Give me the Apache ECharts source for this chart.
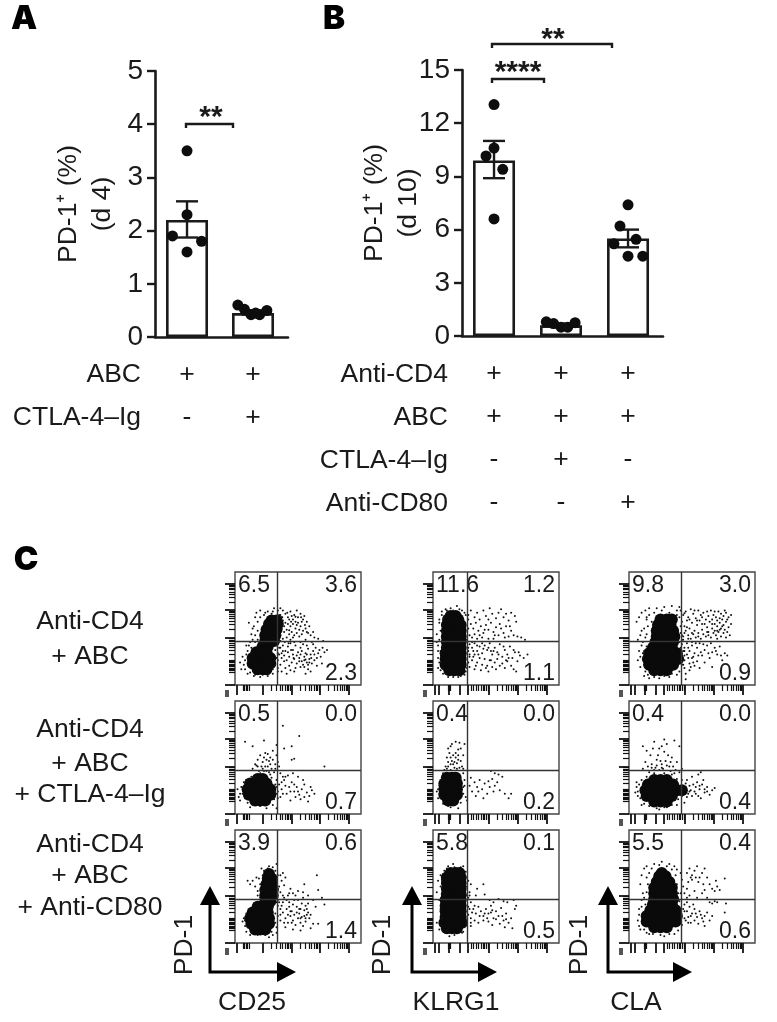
<!DOCTYPE html>
<html><head><meta charset="utf-8">
<style>html,body{margin:0;padding:0;background:#fff}#c{width:777px;height:1022px}</style>
<script src="https://cdn.jsdelivr.net/npm/echarts@6/dist/echarts.min.js"></script>
</head><body><div id="c"></div>
<script>
// ---- Panel A data
const aBars=[[0,2.2],[1,0.45]];
const aErr=[[0,1.87,2.55],[1,0.42,0.5]];
const aDots=[[0,3.5],[0,2.3],[-0.22,1.9],[0.22,1.8],[0,1.6],[0.77,0.6],[0.87,0.52],[0.97,0.42],[1.1,0.42],[1.21,0.5],[1.04,0.45]];
const aSigns=[['+','-'],['+','+']];
const aRows=['ABC','CTLA-4–Ig'];
// ---- Panel B data
const bBars=[[0,9.9],[1,0.6],[2,5.5]];
const bErr=[[0,8.9,11.0],[1,0.5,0.7],[2,5.0,6.0]];
const bDots=[[0,13.05],[0,10.6],[-0.12,10.15],[0.13,9.4],[0,6.6],[0.78,0.8],[0.89,0.7],[1,0.5],[1.1,0.5],[1.21,0.75],[2,7.4],[1.88,6.2],[2.12,5.45],[1.79,5.2],[2,4.5],[2.22,4.5]];
const bSigns=[['+','+','-','-'],['+','+','+','-'],['+','+','-','+']];
const bRows=['Anti-CD4','ABC','CTLA-4–Ig','Anti-CD80'];
// ---- Panel C tick marks (percent of the plot box)
const yMajor=[89.3,66.6,42,0.6];
const yMinor=[88.3,87.1,85.8,84.3,82.3,80.2,77.5,73.4,65.5,64.3,63,61.2,59.2,56.8,53.8,49.7,41.1,39.9,38.8,37.3,35.5,33.7,31.1,27.2,22.2,21,19.8,18.6,17.5,16.3,15.1,13.9,12.7,11.5];
const xMajorCD25=[1.3,22,45,67.6,90];
const xMinorCD25=[6.6,7.6,9,10,11,28.9,32.8,35.6,37.8,39.6,41.1,42.4,43.6,51.8,55.8,58.6,60.8,62.6,64.1,65.4,66.6,74.4,78.4,81.2,83.4,85.2,86.7,88,89.2];
const xMajorOther=[1,4.5,12.5,21,27.5,44.5,67,90];
const xMinorOther=[12,13,14,30,32,34,36,38,39.5,41,42.5,43.5,51,55,58,60,62,63.5,65,66,74,78,81,83,85,86.5,88,89];
// ---- Panel C quadrant gates and percentages
const gateX=[33.3,27.2,41.3];
const gateY=39;
const pct=[['6.5','3.6','2.3'],['11.6','1.2','1.1'],['9.8','3.0','0.9'],['0.5','0.0','0.7'],['0.4','0.0','0.2'],['0.4','0.0','0.4'],['3.9','0.6','1.4'],['5.8','0.1','0.5'],['5.5','0.4','0.6']];
const rowLabels=[['Anti-CD4','+ ABC'],['Anti-CD4','+ ABC','+ CTLA-4–Ig'],['Anti-CD4','+ ABC','+ Anti-CD80']];
const markers=['CD25','KLRG1','CLA'];
// ---- Panel C events: dense cores and scattered events
const core11=[[18,14],[22,14],[25,14],[14,19],[18,19],[22,19],[26,19],[28,19],[14,24],[18,24],[22,24],[26,24],[28,24],[17,29],[21,29],[25,29],[22,34],[26,34],[24,39],[28,39],[31,39],[24,44],[28,44],[32,44],[25,49],[29,49],[33,49],[27,54],[31,54],[34,54],[29,57],[33,57]];
const dots11=[[36,62],[38,66],[40,63],[42,60],[44,65],[46,58],[47,62],[49,66],[50,60],[52,63],[54,58],[55,61],[57,56],[38,57],[40,55],[42,54],[44,52],[46,54],[48,50],[50,55],[52,52],[54,48],[56,50],[37,50],[39,47],[41,49],[43,45],[45,47],[47,44],[49,46],[51,43],[36,44],[38,41],[41,42],[44,40],[53,45],[58,46],[60,44],[63,42],[66,41],[70,39],[62,47],[35,58],[37,54],[43,58],[48,56],[53,56],[45,61],[34,36],[36,33],[38,35],[40,30],[42,34],[44,37],[46,31],[48,35],[50,29],[52,33],[54,36],[56,28],[58,32],[60,27],[62,30],[64,33],[66,28],[68,25],[35,27],[37,24],[39,26],[41,22],[43,25],[45,20],[47,23],[49,19],[51,24],[53,21],[55,25],[57,20],[59,23],[61,19],[63,22],[65,17],[36,18],[40,15],[44,13],[43,17],[48,15],[55,16],[58,14],[38,30],[46,27],[52,27],[57,35],[62,36],[34,22],[34,15],[56,10],[10,30],[7,18],[5,14],[4,20],[9,35],[12,38],[14,50],[11,55],[16,60],[13,45],[17,64],[20,66],[24,64],[29,63],[34,66],[31,68],[36,68],[18,40],[6,25],[10,10],[15,8],[20,7],[26,8],[30,10],[34,12]];
const extra11=[[37.5,60],[39,52],[41.5,64],[43,48.5],[44.5,56],[46,42],[48,60.5],[49,53],[51,49],[52.5,60],[55.5,53],[57,47],[59,52],[35.5,47],[39.5,38],[36,39],[42.5,37],[47,38],[52,38],[56,40],[61,38],[35,33],[37,28],[39,21],[42,29],[44.5,31],[46.5,24],[49,26],[51,21],[53,30],[55,22],[57,27],[59,20],[60.5,24],[63,27],[65,24],[67,31],[69.5,33],[71,29],[73,31],[54,18],[56,22.5],[58,18],[52,16],[47,12],[41,10],[37,12],[60,12],[69,19],[34,28],[11,35],[13,33],[9,27],[8,22],[8,14],[12,11],[16,9],[22,9],[27,10],[30,14],[32,18],[33,24],[32,31],[14,40],[16,44],[18,48],[15,52],[18,56],[20,60],[23,62],[26,65],[30,65],[35,62],[37,60],[16,38],[20,36],[18,35]];
const core12=[[13,13],[17,13],[21,13],[10,18],[14,18],[18,18],[22,18],[10,23],[14,23],[18,23],[22,23],[10,28],[14,28],[18,28],[22,28],[11,33],[15,33],[19,33],[22,33],[11,38],[15,38],[19,38],[22,38],[11,43],[15,43],[19,43],[22,43],[11,48],[15,48],[19,48],[22,48],[11,53],[15,53],[19,53],[22,53],[12,58],[16,58],[20,58],[14,61],[18,61]];
const dots12=[[28,62],[30,66],[33,60],[35,64],[37,58],[40,66],[42,61],[45,68],[47,63],[50,59],[52,64],[54,67],[56,60],[58,63],[60,57],[62,64],[65,61],[66,56],[30,54],[32,50],[34,55],[36,48],[38,52],[40,46],[42,53],[44,49],[46,55],[48,47],[50,51],[52,44],[54,50],[56,46],[58,52],[60,43],[62,48],[64,44],[67,43],[70,42],[73,40],[29,44],[31,42],[35,41],[39,42],[44,41],[48,41],[29,36],[31,33],[33,37],[35,30],[37,34],[39,28],[41,35],[43,31],[45,37],[47,27],[49,33],[51,29],[53,36],[55,25],[57,31],[59,27],[61,34],[63,24],[65,29],[67,21],[69,26],[72,24],[75,27],[29,25],[31,22],[33,27],[35,20],[37,24],[39,18],[41,23],[43,17],[45,22],[47,16],[49,20],[51,23],[53,17],[55,19],[57,15],[59,21],[62,17],[64,14],[66,12],[29,16],[33,14],[38,13],[44,12],[32,30],[46,30],[4,30],[3,45],[5,55],[7,65],[10,67],[14,68],[19,70],[23,66],[26,62],[27,15],[25,9],[20,7],[12,7],[8,10],[4,15],[24,58],[28,30]];
const extra12=[[5,20],[6,30],[5,40],[6,48],[5,58],[7,62],[9,60],[11,66],[16,66],[21,67],[25,64],[28,58],[28,50],[27,40],[28,33],[29,27],[28,20],[26,12],[22,8],[16,7],[10,10],[6,13],[4,24],[4,35],[7,42],[3,38],[33,45],[37,44],[41,49],[44,58],[49,44],[53,54],[57,42],[61,52],[32,25],[36,27],[40,32],[44,33],[48,30],[52,27],[56,34],[60,24],[64,31],[68,29],[34,17],[42,15],[50,14],[58,22],[31,38],[35,35],[39,37],[46,22]];
const core13=[[20,13],[25,13],[30,13],[16,18],[20,18],[25,18],[30,18],[35,18],[15,23],[20,23],[25,23],[30,23],[35,23],[39,23],[16,28],[20,28],[25,28],[30,28],[35,28],[38,28],[19,33],[24,33],[29,33],[34,33],[21,38],[26,38],[31,38],[35,38],[22,43],[27,43],[32,43],[36,43],[22,48],[27,48],[32,48],[35,48],[23,53],[28,53],[33,53],[25,58],[30,58],[34,58]];
const dots13=[[41,66],[43,62],[45,65],[47,60],[49,67],[51,63],[53,59],[55,66],[57,62],[59,64],[61,58],[63,61],[65,66],[67,62],[69,60],[71,65],[73,63],[75,61],[77,64],[79,60],[81,62],[42,56],[44,52],[46,57],[48,50],[50,55],[52,48],[54,53],[56,57],[58,49],[60,54],[62,51],[64,56],[66,50],[68,54],[70,52],[72,55],[73,50],[75,53],[77,56],[79,51],[81,54],[41,46],[43,43],[45,48],[47,44],[49,41],[51,45],[53,42],[55,46],[57,41],[59,45],[61,43],[63,47],[65,42],[67,46],[69,44],[71,47],[73,43],[75,46],[77,42],[80,44],[66,58],[70,57],[74,58],[68,48],[72,49],[76,49],[42,36],[44,33],[46,37],[48,30],[50,35],[52,28],[54,33],[56,37],[58,26],[60,31],[62,35],[64,24],[66,29],[68,33],[70,27],[72,34],[74,22],[76,28],[42,26],[44,22],[46,27],[48,19],[50,24],[52,17],[54,21],[56,15],[44,15],[48,13],[42,18],[45,10],[78,26],[60,20],[66,16],[6,56],[8,60],[10,64],[12,50],[9,44],[11,38],[8,30],[7,22],[9,16],[12,8],[14,60],[13,66],[16,68],[22,68],[28,69],[34,70],[38,66],[40,69],[13,42],[14,34],[16,6],[24,6],[32,7],[38,9],[45,5],[42,40],[40,60]];
const extra13=[[9,25],[10,35],[11,28],[12,18],[13,12],[15,9],[20,7],[28,8],[34,10],[40,12],[43,18],[44,26],[41,33],[14,45],[15,52],[14,58],[16,62],[18,56],[20,64],[26,66],[32,64],[38,62],[41,52],[42,44],[40,38],[10,48],[7,40],[12,30],[44,63.5],[48,58],[52,66],[58,60],[62,65],[68,65],[72,59],[76,66],[78,58],[46,51],[50,46],[54,57],[58,54],[62,47],[66,54],[70,48],[74,52],[78,47],[44,46],[47,41],[55,43],[63,44],[43,40],[50,38],[70,41],[44,30],[47,33],[51,25],[53,37],[57,29],[59,36],[63,28],[65,37],[69,30],[73,26],[47,24],[51,20],[43,30],[55,26],[49,16]];
const core21=[[16,12],[20,12],[24,12],[11,17],[15,17],[20,17],[25,17],[28,17],[10,22],[15,22],[20,22],[25,22],[28,22],[12,27],[16,27],[21,27],[25,27],[18,31],[22,31]];
const dots21=[[14,40],[16,44],[18,48],[20,52],[22,46],[24,54],[26,42],[28,50],[30,56],[32,44],[33,52],[19,38],[23,38],[27,37],[17,43],[21,42],[25,48],[29,40],[31,37],[26,53],[28,44],[23,50],[33,30],[35,26],[37,22],[39,30],[41,18],[43,24],[45,28],[47,20],[49,24],[51,17],[53,22],[55,26],[57,19],[59,16],[61,21],[63,18],[34,20],[36,15],[38,33],[42,34],[46,36],[50,33],[54,30],[44,12],[52,13],[58,11],[40,25],[48,15],[36,36],[33,24],[38,78],[51,69],[23,65],[8,64],[14,60],[39,58],[45,60],[47,49],[45,48],[71,42],[33,61],[34,46],[35,42],[2,22],[3,15],[4,12],[33,5],[25,5],[12,6]];
const extra21=[[6,18],[5,24],[7,28],[8,14],[10,10],[14,8],[20,7],[26,9],[31,13],[33,18],[32,26],[29,32],[9,30],[13,33],[4,18],[34,14],[30,8],[20,36],[24,42],[27,47],[30,48],[22,40],[18,42],[25,38],[28,35],[32,40],[37,28],[40,33],[44,20],[47,26],[50,20],[55,15],[60,24],[38,18]];
const core22=[[12,12],[16,12],[9,17],[13,17],[17,17],[19,17],[9,22],[13,22],[17,22],[19,22],[9,27],[13,27],[17,27],[19,27],[11,32],[15,32],[18,32]];
const dots22=[[10,42],[12,46],[14,50],[16,44],[18,54],[20,48],[22,58],[24,52],[12,58],[15,62],[18,64],[21,63],[11,40],[17,41],[23,42],[13,54],[19,45],[14,60],[22,47],[16,52],[25,62],[9,39],[20,57],[24,40],[29,25],[31,20],[33,28],[35,24],[37,30],[39,22],[41,27],[43,18],[45,24],[47,31],[49,25],[51,28],[53,21],[55,33],[57,18],[46,38],[49,36],[52,35],[60,14],[62,18],[30,32],[34,16],[40,14],[36,20],[44,29],[48,20],[3,20],[4,14],[26,15],[27,12],[25,25],[14,6],[20,5]];
const extra22=[[5,18],[5,25],[6,14],[8,9],[12,7],[17,8],[22,10],[24,18],[25,30],[24,36],[7,32],[8,36],[14,39],[19,40],[4,22],[24,24],[12,42],[15,47],[18,50],[21,41],[14,44],[20,52],[17,46],[11,50]];
const core23=[[20,11],[25,11],[30,11],[14,16],[19,16],[24,16],[29,16],[34,16],[13,21],[18,21],[24,21],[29,21],[34,21],[38,21],[42,21],[15,26],[20,26],[25,26],[30,26],[35,26],[20,30],[25,30],[30,30]];
const dots23=[[11,60],[14,56],[17,52],[20,64],[22,48],[24,58],[26,44],[28,55],[30,62],[32,42],[34,50],[36,65],[38,46],[40,60],[18,44],[21,41],[15,42],[24,39],[27,40],[29,47],[31,52],[33,38],[35,42],[37,39],[23,52],[19,58],[26,60],[13,46],[28,66],[11,40],[42,40],[46,30],[48,25],[50,33],[52,20],[54,28],[56,22],[58,26],[60,19],[62,24],[64,17],[66,21],[68,23],[47,18],[51,26],[55,16],[57,14],[59,30],[55,35],[57,37],[44,22],[46,15],[49,21],[53,24],[6,24],[7,16],[10,8],[24,4],[30,6],[38,8],[44,10],[5,19]];
const extra23=[[7,20],[8,26],[9,14],[12,9],[16,7],[22,5],[28,6],[34,8],[39,13],[42,16],[45,27],[42,30],[38,31],[34,35],[28,36],[20,36],[14,33],[10,30],[6,28],[16,37],[20,39],[22,43],[26,41],[30,43],[25,47],[18,41],[33,46],[36,36],[40,37],[48,20],[50,16],[53,18],[45,24],[56,25],[60,22],[62,20]];
const core31=[[16,12],[20,12],[24,12],[13,17],[17,17],[21,17],[25,17],[27,17],[12,22],[17,22],[21,22],[25,22],[27,22],[14,27],[18,27],[22,27],[26,27],[18,32],[22,32],[26,32],[24,37],[28,37],[24,42],[28,42],[30,42],[24,47],[28,47],[30,47],[25,52],[29,52],[26,57],[29,57],[27,61]];
const dots31=[[18,42],[16,50],[14,55],[12,52],[10,55],[21,66],[24,64],[27,68],[30,67],[33,70],[28,62],[36,60],[38,62],[40,58],[37,55],[35,50],[39,51],[36,45],[33,40],[35,36],[37,33],[39,40],[41,30],[43,36],[45,28],[47,38],[49,32],[51,26],[53,35],[55,24],[57,30],[59,22],[46,44],[50,46],[54,45],[58,42],[62,38],[64,32],[69,40],[71,34],[34,24],[36,20],[38,27],[40,22],[42,18],[44,24],[46,20],[48,16],[50,22],[52,18],[54,15],[56,19],[58,27],[60,13],[62,17],[40,14],[46,12],[52,11],[66,17],[36,30],[42,42],[44,48],[48,42],[55,52],[65,60],[66,47],[43,32],[47,25],[51,30],[55,29],[53,23],[57,25],[34,33],[7,22],[8,15],[9,10],[12,7],[6,19],[30,7],[33,9],[27,5]];
const extra31=[[20,40],[21,46],[20,52],[19,57],[22,60],[23,64],[26,66],[32,64],[34,60],[33,55],[34,48],[33,43],[18,46],[17,58],[22,38],[31,38],[33,36],[8,20],[9,26],[10,14],[13,10],[18,7],[24,7],[29,10],[32,18],[32,26],[30,32],[12,30],[15,35],[33,14],[38,36],[41,38],[44,28],[46,34],[50,38],[52,30],[54,40],[56,33],[36,25],[39,18],[42,25],[45,18],[49,27],[52,22],[56,22],[58,35],[60,25],[38,42],[43,44],[34,38]];
const core32=[[11,13],[15,13],[19,13],[9,18],[13,18],[17,18],[21,18],[23,18],[10,23],[14,23],[18,23],[22,23],[10,28],[14,28],[18,28],[22,28],[10,33],[14,33],[18,33],[22,33],[10,38],[14,38],[18,38],[22,38],[11,43],[15,43],[19,43],[22,43],[11,48],[15,48],[19,48],[22,48],[11,53],[15,53],[19,53],[22,53],[11,58],[15,58],[19,58],[22,58],[14,62],[18,62],[21,62]];
const dots32=[[35,48],[40,52],[34,42],[41,43],[45,38],[48,36],[52,39],[56,37],[59,36],[64,38],[66,33],[65,30],[30,36],[32,30],[34,26],[36,32],[38,28],[40,24],[42,30],[44,26],[46,33],[48,22],[50,28],[52,24],[54,31],[56,20],[58,26],[60,18],[62,22],[30,22],[33,20],[36,18],[40,20],[44,19],[47,16],[30,15],[53,17],[57,14],[63,13],[31,27],[46,27],[28,40],[29,45],[30,52],[4,55],[3,45],[6,60],[12,68],[16,70],[24,68],[26,58],[3,18],[5,12],[13,6],[24,10],[26,20]];
const extra32=[[6,15],[7,22],[6,30],[5,38],[7,44],[6,50],[7,56],[9,64],[11,66],[17,67],[22,67],[26,63],[27,50],[27,42],[28,32],[28,25],[27,16],[23,9],[17,7],[10,9],[29,30],[30,18],[29,42],[28,55],[33,33],[37,24],[41,26],[43,22],[47,29],[50,21],[55,24],[58,21]];
const core33=[[20,14],[25,14],[30,14],[14,19],[19,19],[24,19],[29,19],[34,19],[37,19],[14,24],[19,24],[24,24],[29,24],[34,24],[38,24],[17,29],[22,29],[27,29],[32,29],[37,29],[19,34],[24,34],[29,34],[34,34],[20,39],[25,39],[30,39],[35,39],[20,44],[25,44],[30,44],[34,44],[20,49],[25,49],[30,49],[34,49],[22,54],[27,54],[32,54],[24,59],[29,59],[26,62]];
const dots33=[[46,62],[48,66],[50,60],[52,64],[54,68],[56,58],[58,62],[60,66],[55,54],[50,56],[47,54],[62,58],[64,52],[66,48],[68,46],[70,50],[72,47],[46,48],[44,44],[48,42],[52,46],[58,44],[60,47],[54,40],[62,40],[76,57],[69,55],[44,34],[46,28],[48,32],[50,26],[52,30],[54,23],[56,28],[58,22],[60,24],[62,27],[64,20],[66,24],[45,20],[47,23],[49,18],[52,20],[55,17],[60,15],[64,36],[68,37],[77,35],[76,27],[66,35],[70,36],[9,52],[10,60],[11,44],[12,66],[14,68],[8,30],[7,20],[9,12],[12,40],[13,34],[36,68],[38,65],[41,62],[42,56],[43,50],[32,70],[26,72],[20,70],[16,8],[28,6],[36,8]];
const extra33=[[8,15],[8,25],[10,32],[12,12],[14,9],[19,8],[25,7],[32,8],[39,11],[42,16],[44,22],[43,30],[40,37],[14,45],[15,52],[14,58],[16,62],[18,66],[24,69],[30,68],[34,65],[37,60],[38,52],[39,44],[17,40],[10,38],[41,44],[44,28],[46,36],[47,18],[49,24],[53,26],[57,25],[59,19],[51,34],[49,58],[53,58],[59,52],[46,40]];
const cores=[core11,core12,core13,core21,core22,core23,core31,core32,core33];
const dots=[dots11.concat(extra11),dots12.concat(extra12),dots13.concat(extra13),dots21.concat(extra21),dots22.concat(extra22),dots23.concat(extra23),dots31.concat(extra31),dots32.concat(extra32),dots33.concat(extra33)];

// ---- Layout
const FONT='"Liberation Sans",Arial,sans-serif', INK='#1a1a1a';
const LBL=26.5;
const grid=[],xAxis=[],yAxis=[],series=[],graphic=[];
function text(t,x,y,o={}){graphic.push({type:'text',x,y,rotation:o.rot||0,silent:true,style:{text:t,fill:o.fill||INK,font:(o.weight||'normal')+' '+(o.size||LBL)+'px '+(o.family||FONT),textAlign:o.align||'center',textVerticalAlign:'middle'}});}

function barPanel(box,xMin,xMax,yMax,interval,bars,errs,pts,signs,name,gap){
  const g=grid.length;
  grid.push({left:box[0],top:box[1],width:box[2],height:box[3]});
  xAxis.push({gridIndex:g,type:'value',min:xMin,max:xMax,splitLine:{show:false},
    axisLine:{onZero:false,lineStyle:{color:INK,width:2.6}},axisTick:{show:false},
    axisLabel:{customValues:signs.map((s,i)=>i),formatter:v=>signs[Math.round(v)].join('\n'),fontFamily:FONT,fontSize:LBL,color:INK,lineHeight:43,margin:16,verticalAlign:'top'}});
  yAxis.push({gridIndex:g,type:'value',min:0,max:yMax,interval,splitLine:{show:false},
    axisLine:{onZero:false,lineStyle:{color:INK,width:2.6}},axisTick:{length:8,lineStyle:{color:INK,width:2.4}},
    axisLabel:{fontFamily:FONT,fontSize:28,color:INK,margin:12},
    name,nameLocation:'middle',nameRotate:90,nameGap:gap,nameMoveOverlap:false,nameTextStyle:{fontFamily:FONT,fontSize:LBL,color:INK,lineHeight:34}});
  series.push({type:'bar',xAxisIndex:g,yAxisIndex:g,data:bars,barWidth:42,itemStyle:{color:'#fff',borderColor:INK,borderWidth:2.6},z:2,silent:true});
  series.push({type:'custom',xAxisIndex:g,yAxisIndex:g,data:errs,z:3,silent:true,clip:false,encode:{x:0,y:[1,2]},renderItem(p,api){
    const x=api.value(0),lo=api.coord([x,api.value(1)]),hi=api.coord([x,api.value(2)]),w=11;
    const st={stroke:INK,lineWidth:2.4,fill:'none'};
    return {type:'group',children:[
      {type:'line',shape:{x1:hi[0],y1:hi[1],x2:lo[0],y2:lo[1]},style:st},
      {type:'line',shape:{x1:hi[0]-w,y1:hi[1],x2:hi[0]+w,y2:hi[1]},style:st},
      {type:'line',shape:{x1:lo[0]-w,y1:lo[1],x2:lo[0]+w,y2:lo[1]},style:st}]};
  }});
  series.push({type:'scatter',xAxisIndex:g,yAxisIndex:g,data:pts,symbolSize:11,itemStyle:{color:'#0d0d0d',opacity:1},z:4,silent:true});
}
barPanel([155,71,133,266],-0.485,1.53,5,1,aBars,aErr,aDots,aSigns,'PD-1⁺ (%)\n(d 4)',35);
barPanel([462,70,201,266],-0.478,2.522,15,3,bBars,bErr,bDots,bSigns,'PD-1⁺ (%)\n(d 10)',36);

aRows.forEach((t,i)=>text(t,141,375+i*43,{align:'right'}));
bRows.forEach((t,i)=>text(t,448,375+i*43,{align:'right'}));
const LETTER={size:33,weight:'900',fill:'#000',family:'Inter,"Liberation Sans",sans-serif'};
text('A',24,19,LETTER);
text('B',334,19,LETTER);
text('C',26,560,LETTER);

function bracket(x1,x2,y,d){graphic.push({type:'polyline',silent:true,shape:{points:[[x1,y+d],[x1,y],[x2,y],[x2,y+d]]},style:{stroke:INK,lineWidth:2.4,fill:'none'}});}
bracket(186,233,124,4);text('**',211,118,{size:30,weight:'bold'});
bracket(492,544,79,4);text('****',518,73,{size:30,weight:'bold'});
bracket(492,612,44,4);text('**',553,40,{size:30,weight:'bold'});

// ---- Flow panels
const colX=[235,433,629],rowY=[572,701,830],BW=126,BH=113;
for(let r=0;r<3;r++)for(let c=0;c<3;c++){
  const i=r*3+c,g=grid.length,L=colX[c],T=rowY[r];
  grid.push({show:true,left:L,top:T,width:BW,height:BH,borderColor:'#444',borderWidth:1.4,backgroundColor:'transparent'});
  const xMaj=c===0?xMajorCD25:xMajorOther,xMin=c===0?xMinorCD25:xMinorOther;
  const ax=(vals,len,w)=>({min:0,max:100,type:'value',gridIndex:g,splitLine:{show:false},axisLine:{show:false},axisLabel:{show:false},axisTick:{show:true,length:len,customValues:vals,lineStyle:{color:'#111',width:w}}});
  const base=xAxis.length,baseY=yAxis.length;
  xAxis.push(Object.assign(ax(xMin,6,1.2),{position:'bottom'}),Object.assign(ax(xMaj,10,1.8),{position:'bottom'}));
  yAxis.push(Object.assign(ax(yMinor,6,1.2),{position:'left'}),Object.assign(ax(yMajor,10,1.8),{position:'left'}));
  series.push({type:'scatter',xAxisIndex:base,yAxisIndex:baseY,data:cores[i],symbolSize:12,itemStyle:{color:'#0a0a0a',opacity:1},silent:true,z:2,
    markLine:{silent:true,symbol:'none',animation:false,label:{show:false},lineStyle:{color:'#333',width:1.4,type:'solid'},data:[{xAxis:gateX[c]},{yAxis:gateY}]}});
  series.push({type:'scatter',xAxisIndex:base,yAxisIndex:baseY,data:dots[i],symbolSize:2,itemStyle:{color:'#111',opacity:1},silent:true,z:3});
  const P=pct[i];
  text(P[0],L+3,T+14,{align:'left',size:23});
  text(P[1],L+BW-4,T+14,{align:'right',size:23});
  text(P[2],L+BW-4,T+BH-11,{align:'right',size:23});
  graphic.push({type:'rect',silent:true,shape:{x:L-10,y:T+BH+5,width:4,height:7},style:{fill:'#555'}});
}

rowLabels.forEach((ls,r)=>{
  const ys=[[622,657],[730,764,795],[845,876,908]][r];
  ls.forEach((t,k)=>text(t,90,ys[k]));
});

// ---- Arrows + marker labels
[[210,277,296,185,252],[412,478,497,383,456],[608,673,692,580,636]].forEach((a,i)=>{
  const [vx,hx,apex,tx,lx]=a,by=972;
  graphic.push({type:'polyline',silent:true,shape:{points:[[vx,905],[vx,by],[hx,by]]},style:{stroke:'#000',lineWidth:3,fill:'none'}});
  graphic.push({type:'polygon',silent:true,shape:{points:[[vx-10,905],[vx+10,905],[vx,886]]},style:{fill:'#000'}});
  graphic.push({type:'polygon',silent:true,shape:{points:[[hx,by-10],[hx,by+10],[apex,by]]},style:{fill:'#000'}});
  text('PD-1',tx,945,{rot:Math.PI/2});
  text(markers[i],lx,1003);
});

const chart=echarts.init(document.getElementById('c'),null,{renderer:'canvas'});
chart.setOption({animation:false,grid,xAxis,yAxis,series,graphic});
</script></body></html>
